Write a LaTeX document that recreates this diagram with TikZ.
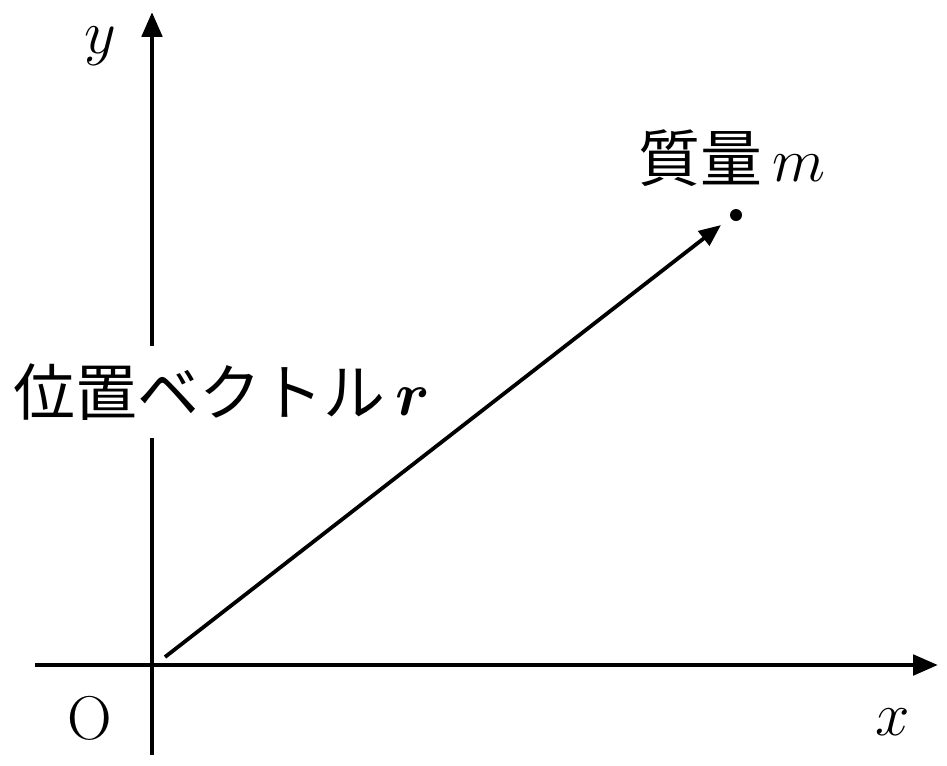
\RequirePackage{fix-cm}
\documentclass[tikz,border=0pt]{standalone}
\usepackage{amsmath}
\usepackage{fontspec}
\newfontfamily\jpfont{Noto Sans CJK JP}
\usetikzlibrary{arrows.meta}

\begin{document}
\begin{tikzpicture}[x=0.025cm,y=-0.025cm,
  every node/.style={font=\fontsize{44pt}{52pt}\selectfont, inner sep=0pt},
  axis/.style={line width=3.4pt,-{Triangle[length=0.62cm,width=0.5cm]}},
  vec/.style={line width=2.7pt,-{Triangle[length=0.55cm,width=0.45cm]}}]
\useasboundingbox (0,0) rectangle (947,765);
% axes
\coordinate (xstart) at (35,665);
\coordinate (xend) at (938,665);
\coordinate (ystart) at (152,755);
\coordinate (yend) at (152,12);
\draw[axis] (xstart) -- (xend);
\draw[axis] (ystart) -- (yend);
\node (xlabel) at (893,722) {$x$};
\node (ylabel) at (100,46) {$y$};
\node (origin) at (90,718) {O};
% position vector
\coordinate (tail) at (165,657);
\coordinate (head) at (721,225);
\draw[vec] (tail) -- (head);
\fill (736,215) circle (0.15cm) coordinate (mass);
\node (masslabel) at (732,158) {{\jpfont 質量}\,$m$};
\node[fill=white, inner ysep=0.45cm] (veclabel) at (222,392) {{\jpfont 位置ベクトル}\,$\boldsymbol{r}$};
\end{tikzpicture}
\end{document}
